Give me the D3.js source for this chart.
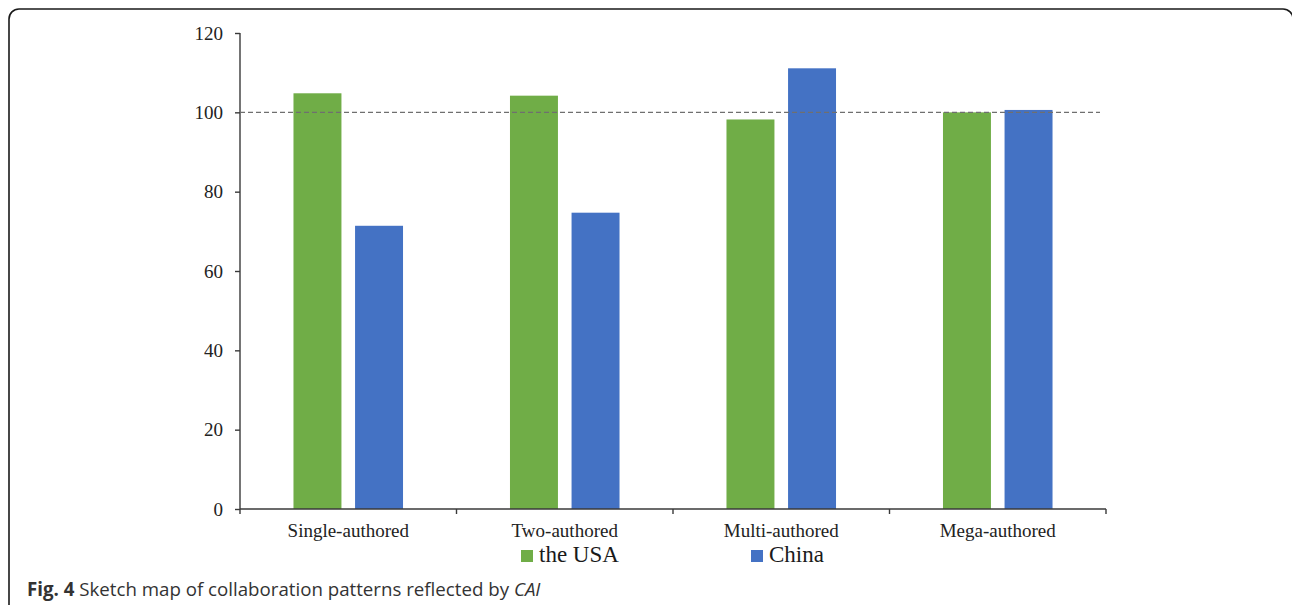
<!DOCTYPE html>
<html>
<head>
<meta charset="utf-8">
<script src="https://cdn.jsdelivr.net/npm/d3@7"></script>
<style>
  html, body { margin: 0; padding: 0; background: #fff; }
  svg { display: block; }
</style>
</head>
<body>
<svg id="chart" width="1292" height="605"></svg>
<script>
// Collaboration patterns: CAI values by authorship type
const categories = ["Single-authored", "Two-authored", "Multi-authored", "Mega-authored"];
const seriesNames = ["the USA", "China"];
const usaValues = [104.8, 104.2, 98.2, 100.0];
const chinaValues = [71.4, 74.7, 111.1, 100.6];
const yTicks = [0, 20, 40, 60, 80, 100, 120];
const referenceLevel = 100;
const colors = ["#70AD47", "#4472C4"];

const svg = d3.select("#chart");

// Panel frame with rounded corners
svg.append("rect")
  .attr("x", 9).attr("y", 9)
  .attr("width", 1284).attr("height", 700)
  .attr("rx", 10).attr("ry", 10)
  .attr("fill", "none")
  .attr("stroke", "#1a1a1a")
  .attr("stroke-width", 1.6);

const plot = { left: 240, right: 1106, top: 33, bottom: 509 };

const x0 = d3.scaleBand()
  .domain(categories)
  .range([plot.left, plot.right])
  .paddingInner(0.494)
  .paddingOuter(0.247);

const x1 = d3.scaleBand()
  .domain(seriesNames)
  .range([0, x0.bandwidth()])
  .paddingInner(0.221)
  .paddingOuter(0);

const y = d3.scaleLinear()
  .domain([0, 120])
  .range([plot.bottom, plot.top]);

const rows = categories.map((c, i) => ({
  category: c,
  values: [usaValues[i], chinaValues[i]]
}));

// Bars
const groups = svg.append("g").selectAll("g")
  .data(rows)
  .join("g")
  .attr("transform", d => `translate(${x0(d.category)},0)`);

groups.selectAll("rect")
  .data(d => d.values.map((v, j) => ({ name: seriesNames[j], value: v, j })))
  .join("rect")
  .attr("x", d => x1(d.name))
  .attr("width", x1.bandwidth())
  .attr("y", d => y(d.value))
  .attr("height", d => y(0) - y(d.value))
  .attr("fill", d => colors[d.j]);

// Y axis
const yAxis = svg.append("g")
  .attr("transform", `translate(${plot.left},0)`)
  .call(d3.axisLeft(y).tickValues(yTicks).tickSizeOuter(0).tickSize(5).tickPadding(12));

// X axis with tick marks on category boundaries
const xEdges = categories.map((c, i) => plot.left + i * x0.step());
xEdges.push(plot.right);
const xAxis = svg.append("g");
xAxis.append("line")
  .attr("x1", plot.left).attr("x2", plot.right)
  .attr("y1", y(0)).attr("y2", y(0));
xAxis.selectAll("line.tick")
  .data(xEdges)
  .join("line")
  .attr("class", "tick")
  .attr("x1", d => d).attr("x2", d => d)
  .attr("y1", y(0)).attr("y2", y(0) + 5);
xAxis.selectAll("text")
  .data(categories)
  .join("text")
  .attr("x", d => x0(d) + x0.bandwidth() / 2)
  .attr("y", y(0) + 28)
  .attr("text-anchor", "middle")
  .text(d => d);

[yAxis, xAxis].forEach(g => {
  g.selectAll("path, line").attr("stroke", "#3a3a3a").attr("stroke-width", 1.4);
  g.selectAll("text")
    .attr("font-family", "'Liberation Serif', 'Times New Roman', serif")
    .attr("font-size", 19)
    .attr("fill", "#222");
});
yAxis.select(".domain").attr("d", `M0,${y(0)}V${y(120)}`);
yAxis.selectAll(".tick line").attr("x1", 0).attr("x2", -5);

// Reference line at 100
svg.append("line")
  .attr("x1", plot.left).attr("x2", 1100)
  .attr("y1", y(referenceLevel)).attr("y2", y(referenceLevel))
  .attr("stroke", "#6f6f6f")
  .attr("stroke-width", 1.3)
  .attr("stroke-dasharray", "5,3");

// Legend
const legendItems = [
  { name: seriesNames[0], color: colors[0], x: 521 },
  { name: seriesNames[1], color: colors[1], x: 751 }
];
const legend = svg.append("g");
legendItems.forEach(it => {
  legend.append("rect")
    .attr("x", it.x).attr("y", 550)
    .attr("width", 12).attr("height", 12)
    .attr("fill", it.color);
  legend.append("text")
    .attr("x", it.x + 18).attr("y", 562)
    .attr("font-family", "'Liberation Serif', 'Times New Roman', serif")
    .attr("font-size", 23)
    .attr("fill", "#1a1a1a")
    .text(it.name);
});

// Figure caption
const caption = svg.append("text")
  .attr("x", 27).attr("y", 596)
  .attr("font-family", "'Open Sans', sans-serif")
  .attr("font-size", 18.7)
  .attr("fill", "#333");
caption.append("tspan").attr("font-weight", "bold").text("Fig. 4");
caption.append("tspan").text(" Sketch map of collaboration patterns reflected by ");
caption.append("tspan").attr("font-style", "italic").text("CAI");
</script>
</body>
</html>
